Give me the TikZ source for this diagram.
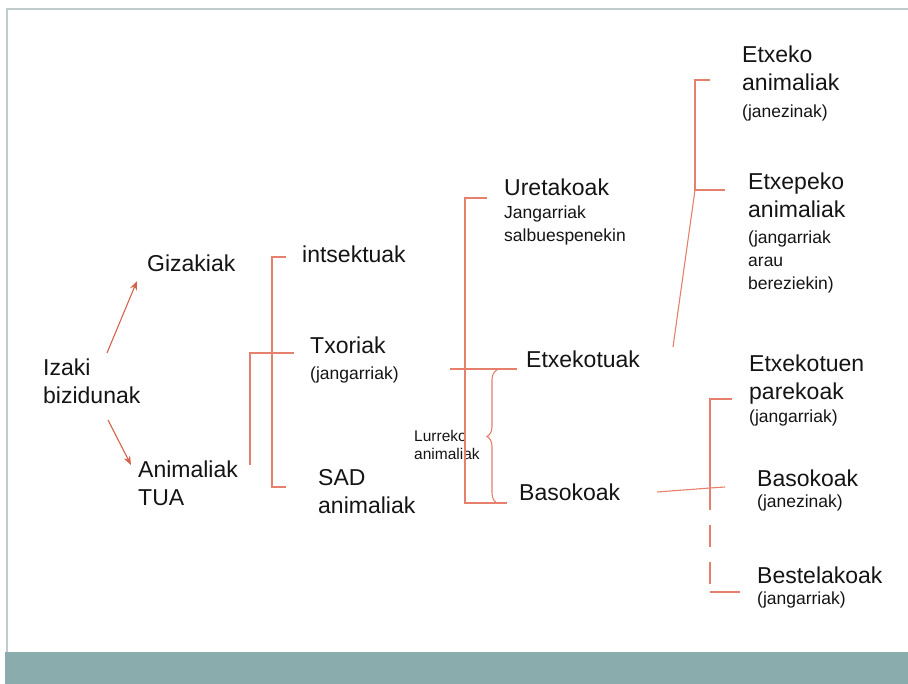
\documentclass[tikz,border=0pt]{standalone}
\usepackage{fontspec}
\setmainfont{Liberation Sans}
\usetikzlibrary{arrows.meta,decorations.pathreplacing}
\definecolor{linkred}{RGB}{228,128,108}
\definecolor{arrowred}{RGB}{214,98,76}
\definecolor{bandteal}{RGB}{139,172,172}
\definecolor{framegray}{RGB}{192,204,204}
\definecolor{inkblack}{RGB}{20,20,20}

\tikzset{
  lbl/.style={anchor=west, inner sep=0pt, align=left, text=inkblack, font=\fontsize{23}{28}\selectfont},
  sub/.style={anchor=west, inner sep=0pt, align=left, text=inkblack, font=\fontsize{17.5}{23}\selectfont},
  tiny/.style={anchor=west, inner sep=0pt, align=left, text=inkblack, font=\fontsize{15.5}{18}\selectfont},
  link/.style={linkred, line width=1.1pt},
  arr/.style={arrowred, line width=1.1pt, >={Stealth[length=9pt,width=7pt]}, ->}
}

\begin{document}
\begin{tikzpicture}[x=1pt, y=-1pt]
\useasboundingbox (0,0) rectangle (908,684);
\fill [bandteal] (5,652) rectangle (908,684);
\draw [framegray, line width=1.5pt] (7,652) -- (7,9) -- (908,9);

\node [lbl] (izaki) at (43,381) {Izaki\\bizidunak};
\node [lbl] (giza) at (147,263) {Gizakiak};
\node [lbl] (anim) at (138,483) {Animaliak\\TUA};

\node [lbl] (intse) at (302,254) {intsektuak};
\node [lbl] (txori) at (310,345) {Txoriak};
\node [sub] (txorisub) at (310,375) {(jangarriak)};
\node [lbl] (sad) at (318,492) {SAD\\animaliak};

\node [lbl] (ureta) at (504,187) {Uretakoak};
\node [sub] (uretasub) at (504,225) {Jangarriak\\salbuespenekin};
\node [tiny] (lurr) at (414,445) {Lurreko\\animaliak};
\node [lbl] (etxekot) at (526,359) {Etxekotuak};
\node [lbl] (baso) at (519,492) {Basokoak};

\node [lbl] (etxeko) at (742,68) {Etxeko\\animaliak};
\node [sub] (etxekosub) at (742,113) {(janezinak)};
\node [lbl] (etxepe) at (748,195) {Etxepeko\\animaliak};
\node [sub] (etxepesub) at (748,262) {(jangarriak\\arau\\bereziekin)};

\node [lbl] (parek) at (749,380) {Etxekotuen\\parekoak};
\node [sub] (pareksub) at (749,418) {(jangarriak)};
\node [lbl] (baso2) at (757,478) {Basokoak};
\node [sub] (baso2sub) at (757,503) {(janezinak)};
\node [lbl] (beste) at (757,575) {Bestelakoak};
\node [sub] (bestesub) at (757,600) {(jangarriak)};

\coordinate (izup) at (107,353);
\coordinate (izdown) at (108,420);
\coordinate (gizatip) at (137,281);
\coordinate (animtip) at (131,465);
\draw [arr] (izup) -- (gizatip);
\draw [arr] (izdown) -- (animtip);

\coordinate (animtop) at (250,353);
\coordinate (animbot) at (250,465);
\coordinate (midtop) at (272,257);
\coordinate (midbot) at (272,487);
\draw [link] (animbot) -- (animtop) -- (294,353);
\draw [link] (286,257) -- (midtop) -- (midbot) -- (286,487);

\coordinate (lurtop) at (465,198);
\coordinate (lurbot) at (465,503);
\coordinate (bracetop) at (497,370);
\coordinate (bracebot) at (497,503);
\draw [link] (487,198) -- (lurtop) -- (lurbot) -- (bracebot) -- (507,503);
\draw [link] (450,369) -- (517,369);
\draw [link, decorate, decoration={brace, amplitude=10pt, aspect=0.5}] (bracebot) -- (bracetop);

\coordinate (etxtop) at (695,80);
\coordinate (etxmid) at (695,190);
\coordinate (etxfoot) at (673,347);
\draw [link] (etxfoot) -- (etxmid);
\draw [link] (710,80) -- (etxtop) -- (etxmid) -- (725,190);

\coordinate (bastop) at (710,399);
\coordinate (basmid) at (710,488);
\coordinate (basbot) at (710,592);
\coordinate (basfoot) at (657,492);
\draw [link] (basfoot) -- (basmid) -- (725,487);
\draw [link] (732,399) -- (bastop) -- (basmid);
\draw [link, dash pattern=on 22pt off 15pt] (basmid) -- (basbot);
\draw [link] (basbot) -- (740,592);

\end{tikzpicture}
\end{document}
